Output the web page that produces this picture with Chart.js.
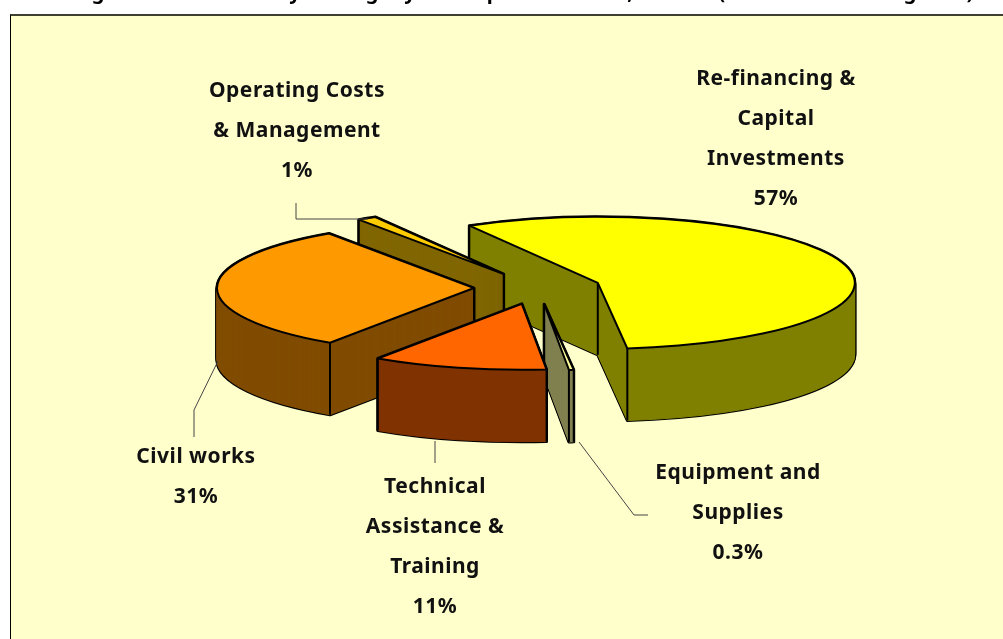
<!DOCTYPE html>
<html lang="en">
<head>
  <meta charset="UTF-8" />
  <title>Lending by category</title>
  <script src="https://cdn.jsdelivr.net/npm/chart.js"></script>
  <style>
    html, body { margin: 0; padding: 0; background: #fff; overflow: hidden; }
    #wrap { position: relative; width: 1003px; height: 639px; }
    #panel {
      position: absolute; left: 10px; top: 14px; right: 0; bottom: 0;
      background: #FFFFCC;
      border-top: 2px solid #404030;
      border-left: 1px solid #000;
    }
    canvas { position: absolute; left: 0; top: 0; }
  </style>
</head>
<body>
  <div id="wrap">
    <div id="panel"></div>
    <canvas id="pie" width="1003" height="639"></canvas>
  </div>

  <script>
    // data, clockwise from the yellow slice
    const categories = [
      "Re-financing & Capital Investments",
      "Equipment and Supplies",
      "Technical Assistance & Training",
      "Civil works",
      "Operating Costs & Management"
    ];
    const categoryLines = [
      ["Re-financing &", "Capital", "Investments"],
      ["Equipment and", "Supplies"],
      ["Technical", "Assistance &", "Training"],
      ["Civil works"],
      ["Operating Costs", "& Management"]
    ];
    // slice sizes as measured on the picture, the printed labels are rounded
    const shares = [56.5, 0.3, 11, 31, 1.2];
    const shareLabels = ["57%", "0.3%", "11%", "31%", "1%"];

    // only the bottoms of the title glyphs are left in the picture
    const titleGlyphs = ["g", "y", "g", "y", "p", ",", "(", "g", ")"];
    const titleGlyphX = [98, 295, 372, 410, 493, 630, 722, 910, 970];

    // styles
    const topColors = ["#FFFF00", "#FFFF99", "#FF6600", "#FF9900", "#FFCC00"];
    const wallColors = ["#808000", "#808050", "#803300", "#804C00", "#806600"];
    const paintOrder = [0, 4, 3, 1, 2];

    // fake 3d projection
    const pieX = 537.5, pieY = 288, tilt = 0.257, depth = 72, explode = 63.5, radius = 257;

    const labelCentre = [[776, 79], [738, 473], [435, 487], [196, 457], [297, 91]];
    const lineGap = 40;
    const labelFont = "bold 21px 'Noto Sans'";

    const leaders = [
      [[296, 203], [296, 219], [368, 219]],
      [[218, 361], [194, 410], [194, 437]],
      [[435, 441], [435, 463]],
      [[579, 442], [634, 515], [648, 515]]
    ];

    // leaves the path of the slice as the current path, drop px below the top face
    function traceSlice(ctx, arc, color, drop) {
      const mid = (arc.startAngle + arc.endAngle) / 2;
      const opts = arc.options;
      arc.options = { ...opts, backgroundColor: color };
      ctx.save();
      ctx.translate(pieX, pieY + drop);
      ctx.scale(1, tilt);
      ctx.translate(Math.cos(mid) * explode - arc.x, Math.sin(mid) * explode - arc.y);
      arc.draw(ctx);
      ctx.restore();
      arc.options = opts;
    }

    function project(arc, angle, r) {
      const mid = (arc.startAngle + arc.endAngle) / 2;
      return {
        x: pieX + Math.cos(mid) * explode + Math.cos(angle) * r,
        y: pieY + (Math.sin(mid) * explode + Math.sin(angle) * r) * tilt
      };
    }

    function verticalEdge(ctx, p) {
      ctx.beginPath();
      ctx.moveTo(p.x, p.y);
      ctx.lineTo(p.x, p.y + depth);
      ctx.stroke();
    }

    function drawSlice(ctx, arc, top, wall) {
      ctx.lineJoin = "round";

      // outline of the extruded shape, then the walls over it
      ctx.strokeStyle = "#000";
      ctx.lineWidth = 3;
      for (let d = depth; d >= 0; d--) {
        traceSlice(ctx, arc, "#000", d);
        ctx.stroke();
      }
      // stroke in the wall colour too, thin slices get no full coverage from fill alone
      ctx.strokeStyle = wall;
      ctx.lineWidth = 1;
      for (let d = depth; d >= 0; d--) {
        traceSlice(ctx, arc, wall, d);
        ctx.stroke();
      }

      // vertical edges, only where a neighbouring wall faces the viewer
      ctx.strokeStyle = "#000";
      ctx.lineWidth = 2;
      const startWall = Math.cos(arc.startAngle) < 0;
      const endWall = Math.cos(arc.endAngle) > 0;
      if (startWall || endWall) verticalEdge(ctx, project(arc, 0, 0));
      if (startWall || Math.sin(arc.startAngle) > 0) verticalEdge(ctx, project(arc, arc.startAngle, radius));
      if (endWall || Math.sin(arc.endAngle) > 0) verticalEdge(ctx, project(arc, arc.endAngle, radius));

      traceSlice(ctx, arc, top, 0);
      ctx.stroke();
    }

    const pie3d = {
      id: "pie3d",
      beforeDatasetsDraw(chart) {
        const arcs = chart.getDatasetMeta(0).data;
        paintOrder.forEach(i => drawSlice(chart.ctx, arcs[i], topColors[i], wallColors[i]));
        return false;
      },
      afterDraw(chart) {
        const ctx = chart.ctx;
        ctx.save();

        ctx.strokeStyle = "#444";
        ctx.lineWidth = 1;
        leaders.forEach(pts => {
          ctx.beginPath();
          pts.forEach((p, i) => i ? ctx.lineTo(p[0], p[1]) : ctx.moveTo(p[0], p[1]));
          ctx.stroke();
        });

        ctx.fillStyle = "#111";
        ctx.font = labelFont;
        ctx.letterSpacing = "0.5px";
        ctx.textAlign = "center";
        ctx.textBaseline = "middle";
        categoryLines.forEach((lines, i) => {
          const rows = lines.concat(shareLabels[i]);
          rows.forEach((row, r) => {
            ctx.fillText(row, labelCentre[i][0], labelCentre[i][1] + r * lineGap);
          });
        });

        ctx.fillStyle = "#000";
        ctx.font = "bold 20px 'Noto Sans'";
        ctx.letterSpacing = "0px";
        ctx.textBaseline = "alphabetic";
        titleGlyphs.forEach((g, i) => ctx.fillText(g, titleGlyphX[i], -1));
        ctx.restore();
      }
    };

    new Chart(document.getElementById("pie").getContext("2d"), {
      type: "pie",
      data: {
        labels: categories,
        datasets: [{
          data: shares,
          backgroundColor: topColors,
          borderWidth: 0,
          radius: radius
        }]
      },
      options: {
        responsive: false,
        animation: false,
        rotation: -30,
        layout: { padding: 0 },
        plugins: { legend: { display: false }, tooltip: { enabled: false } }
      },
      plugins: [pie3d]
    });
  </script>
</body>
</html>
